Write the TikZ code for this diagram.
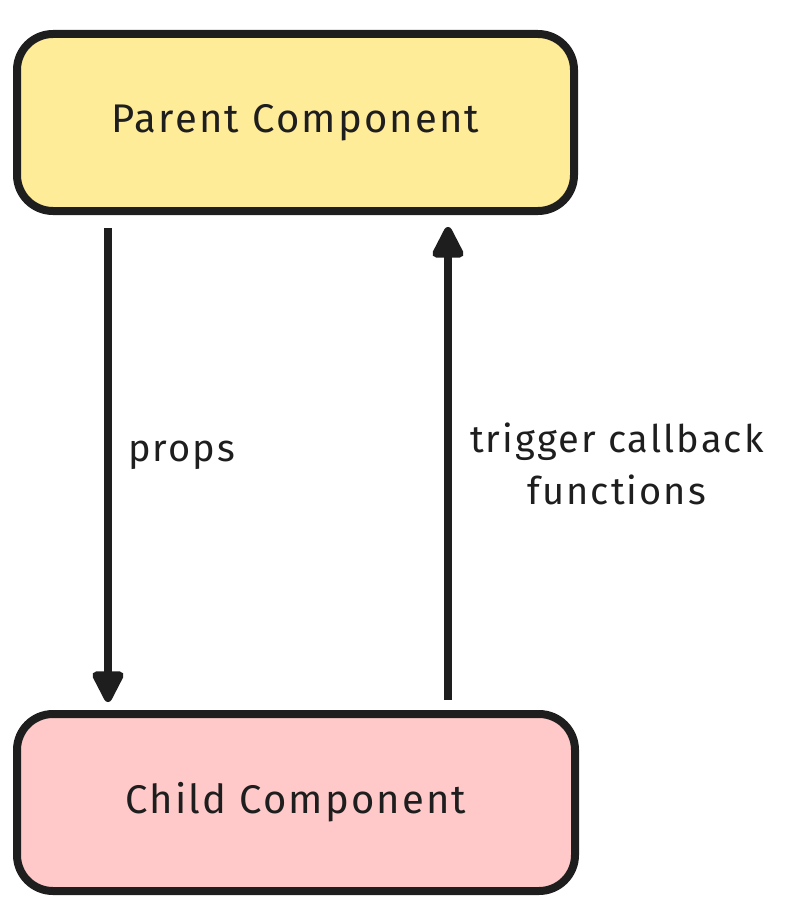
\documentclass[tikz,border=0pt]{standalone}
\usepackage{fontspec}
\setmainfont{Fira Sans}
\newfontfamily\sketchfont[LetterSpace=5.5]{Fira Sans}
\usetikzlibrary{arrows.meta,positioning}
\definecolor{skink}{HTML}{1E1E1E}
\definecolor{skyellow}{HTML}{FFEC99}
\definecolor{skpink}{HTML}{FFC9C9}

\begin{document}
\begin{tikzpicture}[x=1pt, y=-1pt,
  comp/.style={draw=skink, line width=8pt, rounded corners=36pt, outer sep=0pt,
    minimum width=557pt, minimum height=177pt, font=\sketchfont\fontsize{40}{48}\selectfont, text=skink},
  flow/.style={draw=skink, line width=8pt, -{Triangle[length=36pt, width=34pt, round]}},
  lbl/.style={inner sep=0pt, text=skink, font=\sketchfont\fontsize{38}{52}\selectfont, align=center}]
  \useasboundingbox (0,0) rectangle (804,920);
  % ---------- components ----------
  \node[comp, fill=skyellow] (parent) at (295.5, 122.5) {Parent Component};
  \node[comp, fill=skpink, minimum width=558pt] (child) at (296, 802.5) {Child Component};
  % ---------- data flow ----------
  \draw[flow] ([xshift=91pt, yshift=-17pt]parent.south west) -- node[lbl, pos=0.48, right=16pt] (props) {props} ([xshift=91pt, yshift=12pt]child.north west);
  \draw[flow] ([xshift=431pt, yshift=14pt]child.north west) -- node[lbl, pos=0.5, right=18pt] (callback) {trigger callback\\functions} ([xshift=431pt, yshift=-16pt]parent.south west);
\end{tikzpicture}
\end{document}
